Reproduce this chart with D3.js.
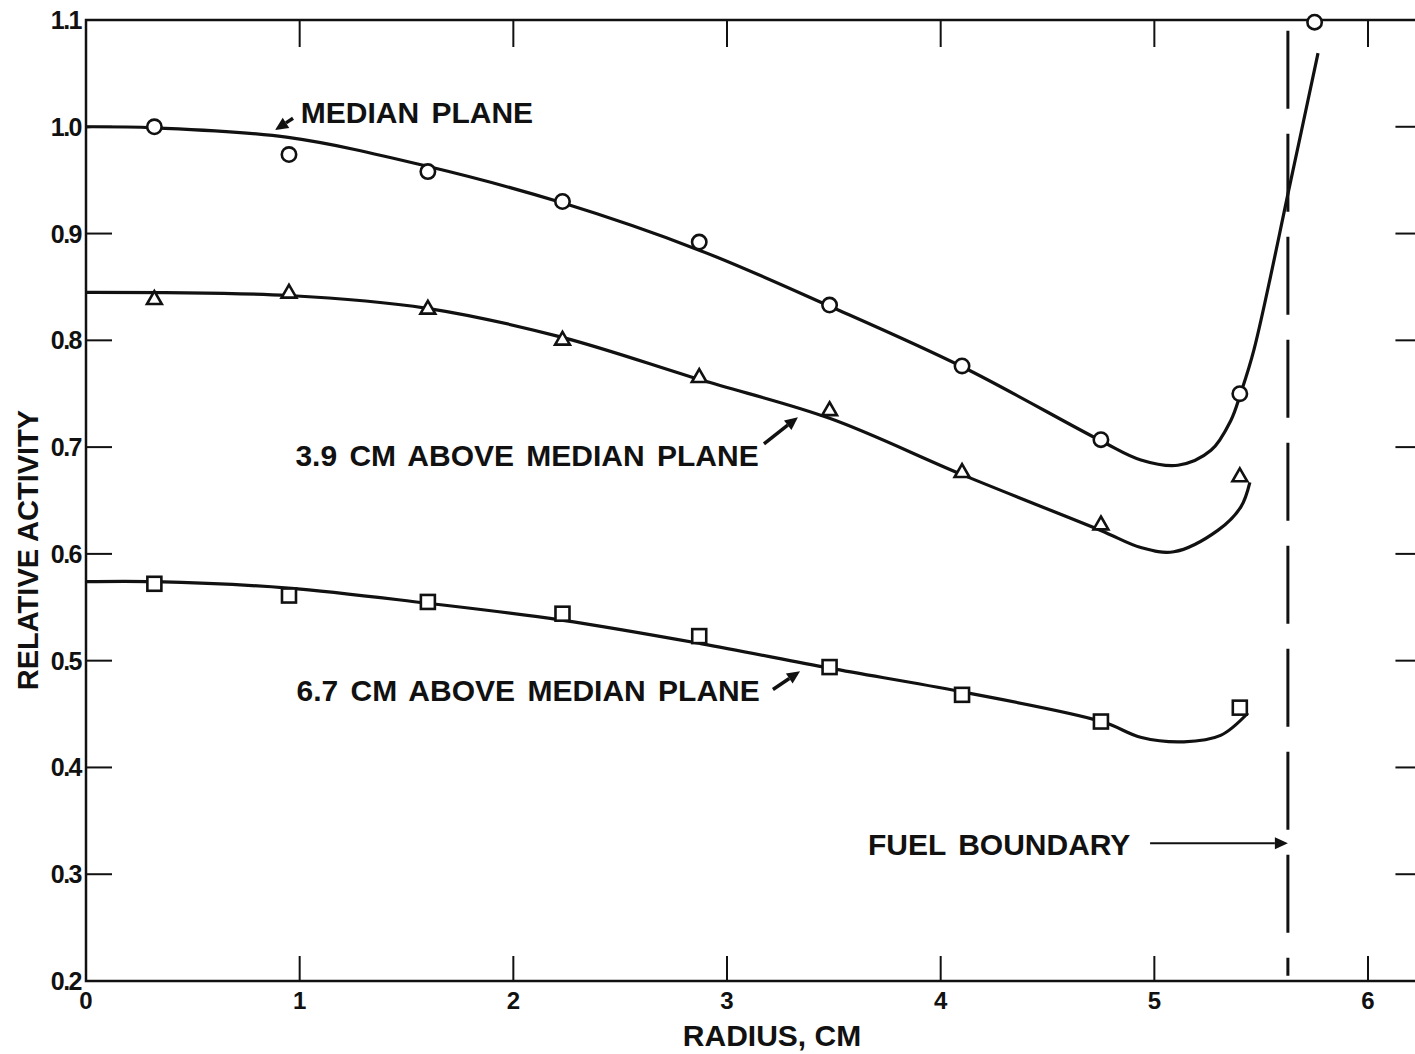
<!DOCTYPE html>
<html>
<head>
<meta charset="utf-8">
<script src="https://cdn.jsdelivr.net/npm/d3@7"></script>
<style>
  html, body { margin: 0; padding: 0; background: #fff; }
  svg { display: block; }
  text { font-family: "Liberation Sans", Arial, sans-serif; fill: #111; }
</style>
</head>
<body>
<script>
// ---------- data ----------
const radius = [0.32, 0.95, 1.6, 2.23, 2.87, 3.48, 4.1, 4.75, 5.4];
const medianRadius = [0.32, 0.95, 1.6, 2.23, 2.87, 3.48, 4.1, 4.75, 5.4, 5.75];
const medianPlane = [1.000, 0.974, 0.958, 0.930, 0.892, 0.833, 0.776, 0.707, 0.750, 1.098];
const above39 = [0.838, 0.844, 0.829, 0.800, 0.765, 0.734, 0.676, 0.627, 0.672];
const above67 = [0.572, 0.561, 0.555, 0.544, 0.523, 0.494, 0.468, 0.443, 0.456];

// hand-drawn fitted curves
const medianCurveX = [0, 0.32, 0.946, 1.597, 2.225, 2.876, 3.48, 4.103, 4.749, 4.937, 5.11, 5.265, 5.358, 5.405, 5.466, 5.639, 5.766];
const medianCurveY = [1.0, 0.999, 0.990, 0.963, 0.929, 0.884, 0.832, 0.775, 0.706, 0.688, 0.683, 0.697, 0.725, 0.751, 0.791, 0.950, 1.069];
const curve39X = [0, 0.946, 1.597, 2.225, 2.876, 3.48, 4.103, 4.749, 4.937, 5.091, 5.297, 5.405, 5.447];
const curve39Y = [0.845, 0.842, 0.830, 0.803, 0.763, 0.727, 0.674, 0.622, 0.606, 0.602, 0.622, 0.644, 0.667];
const curve67X = [0, 0.32, 0.946, 1.59, 2.225, 2.876, 3.48, 4.094, 4.754, 4.94, 5.138, 5.31, 5.438];
const curve67Y = [0.574, 0.574, 0.568, 0.554, 0.538, 0.516, 0.493, 0.471, 0.443, 0.428, 0.424, 0.430, 0.451];

const fuelBoundary = 5.625;
const xTicks = [0, 1, 2, 3, 4, 5, 6];
const xTickLabels = ["0", "1", "2", "3", "4", "5", "6"];
const yTicks = [0.2, 0.3, 0.4, 0.5, 0.6, 0.7, 0.8, 0.9, 1.0, 1.1];
const yTickLabels = ["0.2", "0.3", "0.4", "0.5", "0.6", "0.7", "0.8", "0.9", "1.0", "1.1"];

// annotations
const labels = [
  { text: "MEDIAN PLANE", x: 1.005, y: 1.0035, tail: [0.969, 1.008], head: [0.885, 0.997] },
  { text: "3.9 CM ABOVE MEDIAN PLANE", x: 0.98, y: 0.682, tail: [3.173, 0.703], head: [3.332, 0.728] },
  { text: "6.7 CM ABOVE MEDIAN PLANE", x: 0.985, y: 0.462, tail: [3.215, 0.473], head: [3.342, 0.490] },
  { text: "FUEL BOUNDARY", x: 3.66, y: 0.318, tail: [4.98, 0.329], head: [fuelBoundary, 0.329] }
];

// ---------- layout ----------
const W = 1415, H = 1054;
const x = d3.scaleLinear().domain([0, 6.25]).range([86, 86 + 6.25 * 213.67]);
const y = d3.scaleLinear().domain([0.2, 1.1]).range([981, 20]);

const svg = d3.select("body").append("svg").attr("width", W).attr("height", H);

// frame
const x0 = x(0), x1 = x(6.25), y0 = y(0.2), y1 = y(1.1);
svg.append("rect").attr("x", x0).attr("y", y1).attr("width", x1 - x0).attr("height", y0 - y1)
  .attr("fill", "none").attr("stroke", "#111").attr("stroke-width", 2.5);

// ticks (inward)
const tk = svg.append("g").attr("stroke", "#111").attr("stroke-width", 2);
xTicks.filter(d => d > 0).forEach(d => {
  tk.append("line").attr("x1", x(d)).attr("x2", x(d)).attr("y1", y0).attr("y2", y0 - 25);
  tk.append("line").attr("x1", x(d)).attr("x2", x(d)).attr("y1", y1).attr("y2", y1 + 27);
});
yTicks.filter(d => d > 0.2 && d < 1.1).forEach(d => {
  tk.append("line").attr("x1", x0).attr("x2", x0 + 26).attr("y1", y(d)).attr("y2", y(d));
  tk.append("line").attr("x1", x1).attr("x2", x1 - 26).attr("y1", y(d)).attr("y2", y(d));
});

// tick labels
svg.append("g").selectAll("text").data(xTicks).join("text")
  .attr("x", d => x(d)).attr("y", 1009).attr("text-anchor", "middle")
  .attr("font-size", 24).attr("font-weight", "bold")
  .text((d, i) => xTickLabels[i]);
svg.append("g").selectAll("text").data(yTicks).join("text")
  .attr("x", 81).attr("y", d => y(d) + 9).attr("text-anchor", "end")
  .attr("font-size", 25).attr("font-weight", "bold").attr("letter-spacing", -1.5)
  .text((d, i) => yTickLabels[i]);

// axis titles
svg.append("text").attr("x", 772).attr("y", 1046).attr("text-anchor", "middle")
  .attr("font-size", 30).attr("font-weight", "bold").text("RADIUS, CM");
svg.append("text").attr("transform", "translate(38,550) rotate(-90)").attr("text-anchor", "middle")
  .attr("font-size", 29).attr("font-weight", "bold").text("RELATIVE ACTIVITY");

// fuel boundary dashed line
svg.append("line").attr("x1", x(fuelBoundary)).attr("x2", x(fuelBoundary))
  .attr("y1", y(1.09)).attr("y2", y(0.205))
  .attr("stroke", "#111").attr("stroke-width", 3).attr("stroke-dasharray", "78,25");

// curves
const line = d3.line().x(d => x(d[0])).y(d => y(d[1])).curve(d3.curveCatmullRom.alpha(0.5));
[[medianCurveX, medianCurveY], [curve39X, curve39Y], [curve67X, curve67Y]].forEach(([cx, cy]) => {
  svg.append("path").datum(cx.map((v, i) => [v, cy[i]])).attr("d", line)
    .attr("fill", "none").attr("stroke", "#111").attr("stroke-width", 3.2);
});

// markers
svg.append("g").selectAll("circle").data(medianRadius).join("circle")
  .attr("cx", d => x(d)).attr("cy", (d, i) => y(medianPlane[i])).attr("r", 7.2)
  .attr("fill", "#fff").attr("stroke", "#111").attr("stroke-width", 2.6);
const tri = d3.symbol().type(d3.symbolTriangle).size(95);
svg.append("g").selectAll("path").data(radius).join("path")
  .attr("transform", (d, i) => `translate(${x(d)},${y(above39[i])})`).attr("d", tri)
  .attr("fill", "#fff").attr("stroke", "#111").attr("stroke-width", 2.6);
svg.append("g").selectAll("rect").data(radius).join("rect")
  .attr("x", d => x(d) - 7).attr("y", (d, i) => y(above67[i]) - 7).attr("width", 14).attr("height", 14)
  .attr("fill", "#fff").attr("stroke", "#111").attr("stroke-width", 2.6);

// annotations
labels.forEach(l => {
  svg.append("text").attr("x", x(l.x)).attr("y", y(l.y)).attr("font-size", 30).attr("font-weight", "bold")
    .attr("word-spacing", 4).text(l.text);
  const tx = x(l.tail[0]), ty = y(l.tail[1]), hx = x(l.head[0]), hy = y(l.head[1]);
  const ang = Math.atan2(hy - ty, hx - tx);
  const len = 13, wid = 6;
  const bx = hx - len * Math.cos(ang), by = hy - len * Math.sin(ang);
  svg.append("line").attr("x1", tx).attr("y1", ty).attr("x2", bx).attr("y2", by)
    .attr("stroke", "#111").attr("stroke-width", l.text === "FUEL BOUNDARY" ? 2 : 3.5);
  const px = -Math.sin(ang) * wid, py = Math.cos(ang) * wid;
  svg.append("path").attr("d", `M${hx},${hy}L${bx + px},${by + py}L${bx - px},${by - py}Z`).attr("fill", "#111");
});
</script>
</body>
</html>
